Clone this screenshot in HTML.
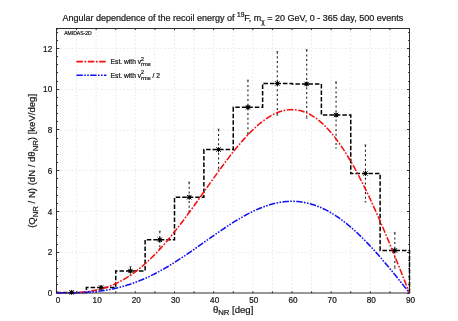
<!DOCTYPE html><html><head><meta charset="utf-8"><style>html,body{margin:0;padding:0;background:#fff;}text{stroke:#222;stroke-width:0.22px;}svg{display:block;font-family:"Liberation Sans",sans-serif;will-change:transform;opacity:0.999;}</style></head><body>
<svg width="458" height="321" viewBox="0 0 458 321">
<rect width="458" height="321" fill="#fff"/>
<path d="M76.58 28.125 V293.0 M96.17 28.125 V293.0 M115.75 28.125 V293.0 M135.33 28.125 V293.0 M154.92 28.125 V293.0 M174.50 28.125 V293.0 M194.08 28.125 V293.0 M213.67 28.125 V293.0 M233.25 28.125 V293.0 M252.83 28.125 V293.0 M272.42 28.125 V293.0 M292.00 28.125 V293.0 M311.58 28.125 V293.0 M331.17 28.125 V293.0 M350.75 28.125 V293.0 M370.33 28.125 V293.0 M389.92 28.125 V293.0 M60.5 252.50 H409.5 M60.5 211.50 H409.5 M60.5 170.50 H409.5 M60.5 130.50 H409.5 M60.5 89.50 H409.5 M60.5 48.50 H409.5" stroke="#e4e4e4" stroke-width="1" stroke-dasharray="1.3 2.4" fill="none"/>
<path d="M56 28.5 H410 M56.5 28 V293.5 M409.5 28 V293.5 M56 293 H410" fill="none" stroke="#2e2e2e" stroke-width="1"/>
<path d="M57.00 293.0 v-1.7 M57.00 28.5 v1.7 M76.58 293.0 v-1.7 M76.58 28.5 v1.7 M96.17 293.0 v-1.7 M96.17 28.5 v1.7 M115.75 293.0 v-1.7 M115.75 28.5 v1.7 M135.33 293.0 v-1.7 M135.33 28.5 v1.7 M154.92 293.0 v-1.7 M154.92 28.5 v1.7 M174.50 293.0 v-1.7 M174.50 28.5 v1.7 M194.08 293.0 v-1.7 M194.08 28.5 v1.7 M213.67 293.0 v-1.7 M213.67 28.5 v1.7 M233.25 293.0 v-1.7 M233.25 28.5 v1.7 M252.83 293.0 v-1.7 M252.83 28.5 v1.7 M272.42 293.0 v-1.7 M272.42 28.5 v1.7 M292.00 293.0 v-1.7 M292.00 28.5 v1.7 M311.58 293.0 v-1.7 M311.58 28.5 v1.7 M331.17 293.0 v-1.7 M331.17 28.5 v1.7 M350.75 293.0 v-1.7 M350.75 28.5 v1.7 M370.33 293.0 v-1.7 M370.33 28.5 v1.7 M389.92 293.0 v-1.7 M389.92 28.5 v1.7 M409.50 293.0 v-1.7 M409.50 28.5 v1.7 M57.0 293.50 h2.3000000000000003 M409.3 293.50 h-2.3000000000000003 M57.0 284.50 h1.0999999999999999 M409.3 284.50 h-1.0999999999999999 M57.0 276.50 h1.0999999999999999 M409.3 276.50 h-1.0999999999999999 M57.0 268.50 h1.0999999999999999 M409.3 268.50 h-1.0999999999999999 M57.0 260.50 h1.0999999999999999 M409.3 260.50 h-1.0999999999999999 M57.0 252.50 h2.3000000000000003 M409.3 252.50 h-2.3000000000000003 M57.0 244.50 h1.0999999999999999 M409.3 244.50 h-1.0999999999999999 M57.0 235.50 h1.0999999999999999 M409.3 235.50 h-1.0999999999999999 M57.0 227.50 h1.0999999999999999 M409.3 227.50 h-1.0999999999999999 M57.0 219.50 h1.0999999999999999 M409.3 219.50 h-1.0999999999999999 M57.0 211.50 h2.3000000000000003 M409.3 211.50 h-2.3000000000000003 M57.0 203.50 h1.0999999999999999 M409.3 203.50 h-1.0999999999999999 M57.0 195.50 h1.0999999999999999 M409.3 195.50 h-1.0999999999999999 M57.0 187.50 h1.0999999999999999 M409.3 187.50 h-1.0999999999999999 M57.0 178.50 h1.0999999999999999 M409.3 178.50 h-1.0999999999999999 M57.0 170.50 h2.3000000000000003 M409.3 170.50 h-2.3000000000000003 M57.0 162.50 h1.0999999999999999 M409.3 162.50 h-1.0999999999999999 M57.0 154.50 h1.0999999999999999 M409.3 154.50 h-1.0999999999999999 M57.0 146.50 h1.0999999999999999 M409.3 146.50 h-1.0999999999999999 M57.0 138.50 h1.0999999999999999 M409.3 138.50 h-1.0999999999999999 M57.0 129.50 h2.3000000000000003 M409.3 129.50 h-2.3000000000000003 M57.0 121.50 h1.0999999999999999 M409.3 121.50 h-1.0999999999999999 M57.0 113.50 h1.0999999999999999 M409.3 113.50 h-1.0999999999999999 M57.0 105.50 h1.0999999999999999 M409.3 105.50 h-1.0999999999999999 M57.0 97.50 h1.0999999999999999 M409.3 97.50 h-1.0999999999999999 M57.0 89.50 h2.3000000000000003 M409.3 89.50 h-2.3000000000000003 M57.0 81.50 h1.0999999999999999 M409.3 81.50 h-1.0999999999999999 M57.0 72.50 h1.0999999999999999 M409.3 72.50 h-1.0999999999999999 M57.0 64.50 h1.0999999999999999 M409.3 64.50 h-1.0999999999999999 M57.0 56.50 h1.0999999999999999 M409.3 56.50 h-1.0999999999999999 M57.0 48.50 h2.3000000000000003 M409.3 48.50 h-2.3000000000000003 M57.0 40.50 h1.0999999999999999 M409.3 40.50 h-1.0999999999999999 M57.0 32.50 h1.0999999999999999 M409.3 32.50 h-1.0999999999999999" stroke="#2e2e2e" stroke-width="1" fill="none"/>
<text x="58.00" y="302.9" font-size="8.2" text-anchor="middle" fill="#111">0</text>
<text x="97.17" y="302.9" font-size="8.2" text-anchor="middle" fill="#111">10</text>
<text x="136.33" y="302.9" font-size="8.2" text-anchor="middle" fill="#111">20</text>
<text x="175.50" y="302.9" font-size="8.2" text-anchor="middle" fill="#111">30</text>
<text x="214.67" y="302.9" font-size="8.2" text-anchor="middle" fill="#111">40</text>
<text x="253.83" y="302.9" font-size="8.2" text-anchor="middle" fill="#111">50</text>
<text x="293.00" y="302.9" font-size="8.2" text-anchor="middle" fill="#111">60</text>
<text x="332.17" y="302.9" font-size="8.2" text-anchor="middle" fill="#111">70</text>
<text x="371.33" y="302.9" font-size="8.2" text-anchor="middle" fill="#111">80</text>
<text x="410.50" y="302.9" font-size="8.2" text-anchor="middle" fill="#111">90</text>
<text x="52.2" y="296.00" font-size="8.2" text-anchor="end" fill="#111">0</text>
<text x="52.2" y="255.25" font-size="8.2" text-anchor="end" fill="#111">2</text>
<text x="52.2" y="214.50" font-size="8.2" text-anchor="end" fill="#111">4</text>
<text x="52.2" y="173.75" font-size="8.2" text-anchor="end" fill="#111">6</text>
<text x="52.2" y="133.00" font-size="8.2" text-anchor="end" fill="#111">8</text>
<text x="52.2" y="92.25" font-size="8.2" text-anchor="end" fill="#111">10</text>
<text x="52.2" y="51.50" font-size="8.2" text-anchor="end" fill="#111">12</text>
<path d="M57.00 293.00 V292.39 H86.38 V287.60 H115.75 V271.00 H145.12 V239.82 H174.50 V197.24 H203.88 V149.56 H233.25 V107.28 H262.62 V83.44 H292.00 V83.95 H321.38 V115.02 H350.75 V173.46 H380.12 V250.42 H409.50 V293.00" stroke="#000" stroke-width="1.5" stroke-dasharray="4.5 2" fill="none"/>
<path d="M71.69 291.98 V292.80 M101.06 285.97 V289.23 M130.44 266.72 V275.27 M159.81 231.26 V248.38 M189.19 182.16 V212.31 M218.56 129.19 V169.94 M247.94 80.18 V134.38 M277.31 51.66 V115.23 M306.69 49.72 V118.18 M336.06 82.02 V148.03 M365.44 144.93 V201.98 M394.81 232.69 V268.14" stroke="#222" stroke-width="1.1" stroke-dasharray="2 2.7" fill="none"/>
<path d="M70.69 291.98 h2 M70.69 292.80 h2 M100.06 285.97 h2 M100.06 289.23 h2 M129.44 266.72 h2 M129.44 275.27 h2 M158.81 231.26 h2 M158.81 248.38 h2 M188.19 182.16 h2 M188.19 212.31 h2 M217.56 129.19 h2 M217.56 169.94 h2 M246.94 80.18 h2 M246.94 134.38 h2 M276.31 51.66 h2 M276.31 115.23 h2 M305.69 49.72 h2 M305.69 118.18 h2 M335.06 82.02 h2 M335.06 148.03 h2 M364.44 144.93 h2 M364.44 201.98 h2 M393.81 232.69 h2 M393.81 268.14 h2" stroke="#333" stroke-width="0.8" fill="none"/>
<path d="M57.00 293.00 L58.96 293.00 L60.92 293.00 L62.88 292.99 L64.83 292.98 L66.79 292.95 L68.75 292.92 L70.71 292.87 L72.67 292.81 L74.62 292.73 L76.58 292.63 L78.54 292.51 L80.50 292.36 L82.46 292.19 L84.42 291.99 L86.38 291.76 L88.33 291.49 L90.29 291.20 L92.25 290.87 L94.21 290.50 L96.17 290.09 L98.12 289.64 L100.08 289.15 L102.04 288.62 L104.00 288.04 L105.96 287.41 L107.92 286.74 L109.88 286.02 L111.83 285.24 L113.79 284.42 L115.75 283.54 L117.71 282.62 L119.67 281.63 L121.62 280.60 L123.58 279.50 L125.54 278.36 L127.50 277.15 L129.46 275.89 L131.42 274.58 L133.38 273.20 L135.33 271.77 L137.29 270.28 L139.25 268.74 L141.21 267.14 L143.17 265.48 L145.12 263.76 L147.08 261.99 L149.04 260.17 L151.00 258.29 L152.96 256.36 L154.92 254.37 L156.88 252.34 L158.83 250.25 L160.79 248.11 L162.75 245.92 L164.71 243.69 L166.67 241.41 L168.62 239.09 L170.58 236.73 L172.54 234.32 L174.50 231.88 L176.46 229.39 L178.42 226.88 L180.38 224.32 L182.33 221.74 L184.29 219.13 L186.25 216.49 L188.21 213.83 L190.17 211.15 L192.12 208.44 L194.08 205.72 L196.04 202.98 L198.00 200.23 L199.96 197.47 L201.92 194.71 L203.88 191.94 L205.83 189.17 L207.79 186.40 L209.75 183.63 L211.71 180.87 L213.67 178.12 L215.62 175.39 L217.58 172.67 L219.54 169.97 L221.50 167.29 L223.46 164.63 L225.42 162.00 L227.38 159.41 L229.33 156.85 L231.29 154.32 L233.25 151.84 L235.21 149.40 L237.17 147.00 L239.12 144.65 L241.08 142.36 L243.04 140.12 L245.00 137.94 L246.96 135.81 L248.92 133.76 L250.88 131.77 L252.83 129.84 L254.79 127.99 L256.75 126.21 L258.71 124.52 L260.67 122.90 L262.62 121.36 L264.58 119.90 L266.54 118.54 L268.50 117.26 L270.46 116.07 L272.42 114.98 L274.38 113.99 L276.33 113.09 L278.29 112.29 L280.25 111.59 L282.21 111.00 L284.17 110.51 L286.12 110.12 L288.08 109.85 L290.04 109.68 L292.00 109.62 L293.96 109.68 L295.92 109.85 L297.88 110.13 L299.83 110.53 L301.79 111.04 L303.75 111.67 L305.71 112.42 L307.67 113.28 L309.62 114.26 L311.58 115.35 L313.54 116.57 L315.50 117.90 L317.46 119.35 L319.42 120.92 L321.38 122.60 L323.33 124.40 L325.29 126.32 L327.25 128.35 L329.21 130.50 L331.17 132.75 L333.12 135.13 L335.08 137.61 L337.04 140.20 L339.00 142.90 L340.96 145.71 L342.92 148.62 L344.88 151.64 L346.83 154.76 L348.79 157.98 L350.75 161.29 L352.71 164.71 L354.67 168.21 L356.62 171.81 L358.58 175.50 L360.54 179.27 L362.50 183.13 L364.46 187.07 L366.42 191.09 L368.38 195.18 L370.33 199.35 L372.29 203.59 L374.25 207.89 L376.21 212.26 L378.17 216.69 L380.12 221.17 L382.08 225.71 L384.04 230.30 L386.00 234.94 L387.96 239.62 L389.92 244.35 L391.88 249.11 L393.83 253.90 L395.79 258.72 L397.75 263.57 L399.71 268.44 L401.67 273.33 L403.62 278.23 L405.58 283.15 L407.54 288.07 L409.50 293.00" stroke="#f51010" stroke-width="1.55" stroke-dasharray="6.5 1.6 1.7 1.6" fill="none"/>
<path d="M57.00 293.00 L58.96 293.00 L60.92 293.00 L62.88 292.99 L64.83 292.99 L66.79 292.98 L68.75 292.96 L70.71 292.94 L72.67 292.90 L74.62 292.86 L76.58 292.81 L78.54 292.75 L80.50 292.68 L82.46 292.59 L84.42 292.49 L86.38 292.38 L88.33 292.25 L90.29 292.10 L92.25 291.93 L94.21 291.75 L96.17 291.54 L98.12 291.32 L100.08 291.07 L102.04 290.81 L104.00 290.52 L105.96 290.21 L107.92 289.87 L109.88 289.51 L111.83 289.12 L113.79 288.71 L115.75 288.27 L117.71 287.81 L119.67 287.32 L121.62 286.80 L123.58 286.25 L125.54 285.68 L127.50 285.08 L129.46 284.45 L131.42 283.79 L133.38 283.10 L135.33 282.39 L137.29 281.64 L139.25 280.87 L141.21 280.07 L143.17 279.24 L145.12 278.38 L147.08 277.50 L149.04 276.58 L151.00 275.65 L152.96 274.68 L154.92 273.69 L156.88 272.67 L158.83 271.62 L160.79 270.55 L162.75 269.46 L164.71 268.35 L166.67 267.21 L168.62 266.05 L170.58 264.86 L172.54 263.66 L174.50 262.44 L176.46 261.20 L178.42 259.94 L180.38 258.66 L182.33 257.37 L184.29 256.07 L186.25 254.75 L188.21 253.42 L190.17 252.07 L192.12 250.72 L194.08 249.36 L196.04 247.99 L198.00 246.62 L199.96 245.24 L201.92 243.85 L203.88 242.47 L205.83 241.08 L207.79 239.70 L209.75 238.32 L211.71 236.94 L213.67 235.56 L215.62 234.19 L217.58 232.83 L219.54 231.48 L221.50 230.14 L223.46 228.82 L225.42 227.50 L227.38 226.20 L229.33 224.92 L231.29 223.66 L233.25 222.42 L235.21 221.20 L237.17 220.00 L239.12 218.83 L241.08 217.68 L243.04 216.56 L245.00 215.47 L246.96 214.41 L248.92 213.38 L250.88 212.38 L252.83 211.42 L254.79 210.50 L256.75 209.61 L258.71 208.76 L260.67 207.95 L262.62 207.18 L264.58 206.45 L266.54 205.77 L268.50 205.13 L270.46 204.54 L272.42 203.99 L274.38 203.49 L276.33 203.04 L278.29 202.64 L280.25 202.30 L282.21 202.00 L284.17 201.75 L286.12 201.56 L288.08 201.42 L290.04 201.34 L292.00 201.31 L293.96 201.34 L295.92 201.42 L297.88 201.57 L299.83 201.76 L301.79 202.02 L303.75 202.34 L305.71 202.71 L307.67 203.14 L309.62 203.63 L311.58 204.18 L313.54 204.78 L315.50 205.45 L317.46 206.18 L319.42 206.96 L321.38 207.80 L323.33 208.70 L325.29 209.66 L327.25 210.67 L329.21 211.75 L331.17 212.88 L333.12 214.06 L335.08 215.30 L337.04 216.60 L339.00 217.95 L340.96 219.35 L342.92 220.81 L344.88 222.32 L346.83 223.88 L348.79 225.49 L350.75 227.15 L352.71 228.85 L354.67 230.61 L356.62 232.41 L358.58 234.25 L360.54 236.14 L362.50 238.07 L364.46 240.04 L366.42 242.04 L368.38 244.09 L370.33 246.18 L372.29 248.29 L374.25 250.45 L376.21 252.63 L378.17 254.84 L380.12 257.09 L382.08 259.36 L384.04 261.65 L386.00 263.97 L387.96 266.31 L389.92 268.67 L391.88 271.05 L393.83 273.45 L395.79 275.86 L397.75 278.28 L399.71 280.72 L401.67 283.17 L403.62 285.62 L405.58 288.08 L407.54 290.54 L409.50 293.00" stroke="#1010f0" stroke-width="1.55" stroke-dasharray="6.4 1.4 1.6 1.4 1.6 1.4" fill="none"/>
<path d="M69.19 292.39 h5.0 M71.69 289.89 v5.0 M69.49 290.19 l4.4 4.4 M69.49 294.59 l4.4 -4.4 M98.56 287.60 h5.0 M101.06 285.10 v5.0 M98.86 285.40 l4.4 4.4 M98.86 289.80 l4.4 -4.4 M127.94 271.00 h5.0 M130.44 268.50 v5.0 M128.24 268.80 l4.4 4.4 M128.24 273.19 l4.4 -4.4 M157.31 239.82 h5.0 M159.81 237.32 v5.0 M157.61 237.62 l4.4 4.4 M157.61 242.02 l4.4 -4.4 M186.69 197.24 h5.0 M189.19 194.74 v5.0 M186.99 195.04 l4.4 4.4 M186.99 199.44 l4.4 -4.4 M216.06 149.56 h5.0 M218.56 147.06 v5.0 M216.36 147.36 l4.4 4.4 M216.36 151.76 l4.4 -4.4 M245.44 107.28 h5.0 M247.94 104.78 v5.0 M245.74 105.08 l4.4 4.4 M245.74 109.48 l4.4 -4.4 M274.81 83.44 h5.0 M277.31 80.94 v5.0 M275.11 81.24 l4.4 4.4 M275.11 85.64 l4.4 -4.4 M304.19 83.95 h5.0 M306.69 81.45 v5.0 M304.49 81.75 l4.4 4.4 M304.49 86.15 l4.4 -4.4 M333.56 115.02 h5.0 M336.06 112.52 v5.0 M333.86 112.82 l4.4 4.4 M333.86 117.22 l4.4 -4.4 M362.94 173.46 h5.0 M365.44 170.96 v5.0 M363.24 171.26 l4.4 4.4 M363.24 175.66 l4.4 -4.4 M392.31 250.42 h5.0 M394.81 247.92 v5.0 M392.61 248.22 l4.4 4.4 M392.61 252.62 l4.4 -4.4" stroke="#000" stroke-width="1.0" fill="none"/>
<g fill="#000"><circle cx="71.69" cy="292.39" r="1.7"/><circle cx="101.06" cy="287.60" r="1.7"/><circle cx="130.44" cy="271.00" r="1.7"/><circle cx="159.81" cy="239.82" r="1.7"/><circle cx="189.19" cy="197.24" r="1.7"/><circle cx="218.56" cy="149.56" r="1.7"/><circle cx="247.94" cy="107.28" r="1.7"/><circle cx="277.31" cy="83.44" r="1.7"/><circle cx="306.69" cy="83.95" r="1.7"/><circle cx="336.06" cy="115.02" r="1.7"/><circle cx="365.44" cy="173.46" r="1.7"/><circle cx="394.81" cy="250.42" r="1.7"/></g>
<text x="64.2" y="34.7" font-size="5.05" fill="#222">AMIDAS-2D</text>
<path d="M76.4 61.6 H106.4" stroke="#f51010" stroke-width="1.55" stroke-dasharray="6.5 1.6 1.7 1.6" fill="none"/>
<path d="M76.4 75.3 H106.4" stroke="#1010f0" stroke-width="1.55" stroke-dasharray="6.4 1.4 1.6 1.4 1.6 1.4" fill="none"/>
<text x="110.6" y="63.6" font-size="6.7" fill="#111">Est. with v<tspan font-size="5.4" dy="-3.1">2</tspan><tspan font-size="5.8" dy="5.6" dx="-3.0">rms</tspan></text>
<text x="110.6" y="77.5" font-size="6.7" fill="#111">Est. with v<tspan font-size="5.4" dy="-3.1">2</tspan><tspan font-size="5.8" dy="5.6" dx="-3.0">rms</tspan><tspan dy="-2.5"> / 2</tspan></text>
<text id="title" x="232.8" y="20.8" font-size="9.0" text-anchor="middle" fill="#111">Angular dependence of the recoil energy of <tspan font-size="6.6" dy="-4.2">19</tspan><tspan dy="4.2">F, m</tspan><tspan font-size="6.6" dy="2.8">χ</tspan><tspan dy="-2.8"> = 20 GeV, 0 - 365 day, 500 events</tspan></text>
<text id="xl" x="233.1" y="312.5" font-size="9.57" text-anchor="middle" fill="#111">θ<tspan font-size="7.74" dy="2.6">NR</tspan><tspan dy="-2.6"> [deg]</tspan></text>
<text id="yl" transform="translate(35.2 160.9) rotate(-90)" font-size="9.57" text-anchor="middle" fill="#111">(Q<tspan font-size="7.74" dy="2.6">NR</tspan><tspan dy="-2.6"> / N) (dN / dθ</tspan><tspan font-size="7.74" dy="2.6">NR</tspan><tspan dy="-2.6">) [keV/deg]</tspan></text>
</svg></body></html>
